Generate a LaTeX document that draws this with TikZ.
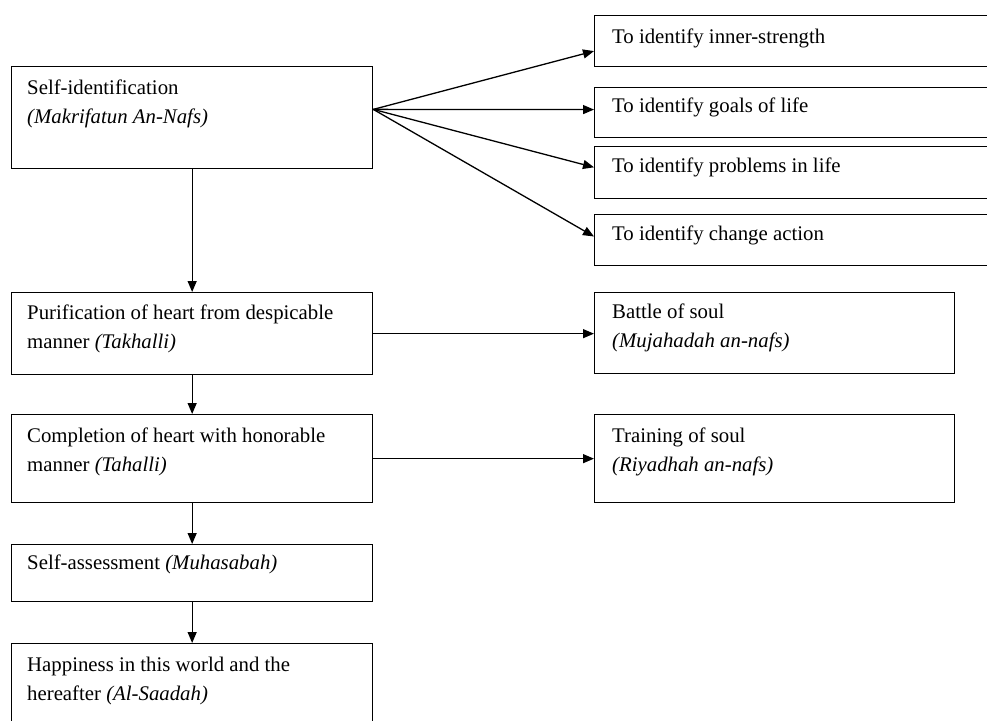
\documentclass[tikz,border=0pt]{standalone}
\usepackage{fontspec}
\setmainfont{Liberation Serif}
\usetikzlibrary{arrows.meta,calc}
\begin{document}
\begin{tikzpicture}[x=1pt,y=-1pt,
  box/.style={draw=black,line width=1.3pt,rectangle,inner sep=0pt,anchor=north west},
  txt/.style={anchor=north west,inner sep=0pt,font=\fontsize{20.8}{29}\selectfont,align=left},
  arr/.style={-{Triangle[length=11pt,width=9pt]},line width=1.3pt}]
\useasboundingbox (0,0) rectangle (987,720);
\clip (0,0) rectangle (987,720);
% left column boxes
\node[box,minimum width=361pt,minimum height=102pt] (self) at (11,66) {};
\node[box,minimum width=361pt,minimum height=82pt] (pur) at (11,292) {};
\node[box,minimum width=361pt,minimum height=88pt] (comp) at (11,414) {};
\node[box,minimum width=361pt,minimum height=57pt] (assess) at (11,544) {};
\node[box,minimum width=361pt,minimum height=100pt] (happy) at (11,643) {};
% right column boxes
\node[box,minimum width=500pt,minimum height=51pt] (b1) at (594,15) {};
\node[box,minimum width=500pt,minimum height=50pt] (b2) at (594,87) {};
\node[box,minimum width=500pt,minimum height=52pt] (b3) at (594,146) {};
\node[box,minimum width=500pt,minimum height=51pt] (b4) at (594,214) {};
\node[box,minimum width=360pt,minimum height=81pt] (battle) at (594,292) {};
\node[box,minimum width=360pt,minimum height=88pt] (train) at (594,414) {};
% texts (baseline = given y, top = baseline - 15)
\node[txt] (selft) at (27,79) {\rule{0pt}{15pt}Self-identification\\\textit{(Makrifatun An-Nafs)}};
\node[txt] (purt) at (27,304) {\rule{0pt}{15pt}Purification of heart from despicable\\manner \textit{(Takhalli)}};
\node[txt] (compt) at (27,427) {\rule{0pt}{15pt}Completion of heart with honorable\\manner \textit{(Tahalli)}};
\node[txt] (assesst) at (27,554) {\rule{0pt}{15pt}Self-assessment \textit{(Muhasabah)}};
\node[txt] (happyt) at (27,656) {\rule{0pt}{15pt}Happiness in this world and the\\hereafter \textit{(Al-Saadah)}};
\node[txt] (b1t) at (612,28) {\rule{0pt}{15pt}To identify inner-strength};
\node[txt] (b2t) at (612,97) {\rule{0pt}{15pt}To identify goals of life};
\node[txt] (b3t) at (612,157) {\rule{0pt}{15pt}To identify problems in life};
\node[txt] (b4t) at (612,225) {\rule{0pt}{15pt}To identify change action};
\node[txt] (battlet) at (612,303) {\rule{0pt}{15pt}Battle of soul\\\textit{(Mujahadah an-nafs)}};
\node[txt] (traint) at (612,427) {\rule{0pt}{15pt}Training of soul\\\textit{(Riyadhah an-nafs)}};
% vertical arrows
\draw[arr] (self.south) -- (pur.north);
\draw[arr] (pur.south) -- (comp.north);
\draw[arr] (comp.south) -- (assess.north);
\draw[arr] (assess.south) -- (happy.north);
% horizontal arrows
\draw[arr] (pur.east) -- (pur.east -| battle.west);
\draw[arr] (comp.east) -- (comp.east -| train.west);
% fan arrows
\coordinate (fan) at ($(self.north east)!0.42!(self.south east)$);
\draw[arr] (fan) -- ($(b1.north west)!0.69!(b1.south west)$);
\draw[arr] (fan) -- ($(b2.north west)!0.44!(b2.south west)$);
\draw[arr] (fan) -- ($(b3.north west)!0.40!(b3.south west)$);
\draw[arr] (fan) -- ($(b4.north west)!0.43!(b4.south west)$);
\end{tikzpicture}
\end{document}
